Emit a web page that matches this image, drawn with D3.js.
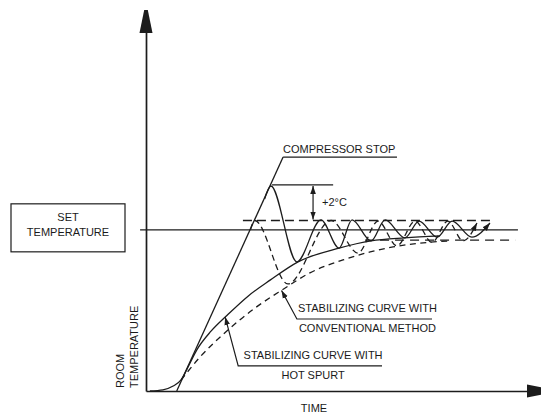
<!DOCTYPE html>
<html>
<head>
<meta charset="utf-8">
<script src="https://cdnjs.cloudflare.com/ajax/libs/d3/7.8.5/d3.min.js"></script>
<style>
	body { margin: 0; background: #fff; }
	text { font-family: "Liberation Sans", Arial, sans-serif; font-size: 11px; fill: #1a1a1a; }
</style>
</head>
<body>
<script>

//levels (arbitrary temperature units)
var setTemp = 42.3,
	bandHigh = 44.75,
	bandLow = 39.6,
	stopTemp = 54.1;

//straight pull-down line up to "compressor stop"
var rampTime = [7.8, 34.8],
	rampTemp = [0, 61.4];

//stabilizing curve with hot spurt (solid)
var hotTime = [1.0, 4.3, 6.9, 8.9, 10.9, 12.9, 16.5, 20.6, 25.9, 31.5, 38.6, 49.0, 57.1, 65.7, 74.6],
	hotTemp = [0, 0.3, 1.3, 2.9, 6.8, 10.8, 15.7, 19.9, 24.9, 29.1, 33.9, 37.5, 39.4, 40.2, 40.7];

//stabilizing curve with conventional method (dashed)
var convTime = [8.9, 13.7, 20.8, 27.7, 34.5, 41.6, 50.0, 56.9, 62.7, 69.5, 77.2],
	convTemp = [2.9, 8.9, 16.0, 21.8, 26.5, 31.0, 34.4, 36.5, 37.8, 38.8, 39.4];

//room temperature swings, hot spurt (solid) and conventional (dashed)
var hotSwingTime = [30.1, 31.7, 38.3, 44.4, 49.0, 52.3, 57.1, 60.7, 65.7, 69.3, 73.9, 77.7, 82.7, 87.3],
	hotSwingTemp = [50.4, 53.8, 33.9, 44.9, 37.5, 44.9, 39.4, 44.9, 40.2, 44.6, 40.4, 44.6, 40.4, 44.1];
var convSwingTime = [26.5, 27.6, 36.0, 47.0, 53.8, 58.9, 63.7, 68.3, 72.6, 76.6, 80.5, 84.0],
	convSwingTemp = [42.3, 44.75, 28.1, 44.75, 36.2, 44.6, 38.1, 44.6, 39.0, 44.6, 39.4, 44.1];

//extent of the horizontal reference lines (time)
var setLineTime = [-1.5, 94.4],
	upperBandTime = [24.6, 87.8],
	lowerBandTime = [55.6, 93.7],
	stopLineTime = [32.0, 47.5],
	deltaTime = 42.4;

//callouts: [tipTime, tipTemp, elbowTime, elbowTemp, endTime]
var stopCallout = [34.8, 61.4, 63.7],
	convCallout = [34.4, 26.4, 38.3, 18.9, 72.6],
	hotCallout = [20.1, 19.4, 23.4, 6.6, 59.9];


var width = 541, height = 416;

var svg = d3.select("body").append("svg")
	.attr("width", width)
	.attr("height", height);

var x = d3.scaleLinear().domain([0, 100]).range([146, 540]),
	y = d3.scaleLinear().domain([0, 100]).range([391, 10]);

var ink = "#1c1c1c";

//markers
var defs = svg.append("defs");
defs.append("marker")
	.attr("id", "tip")
	.attr("viewBox", "0 -4 8 8")
	.attr("refX", 8).attr("refY", 0)
	.attr("markerUnits", "userSpaceOnUse")
	.attr("markerWidth", 8).attr("markerHeight", 8)
	.attr("orient", "auto-start-reverse")
	.append("path")
	.attr("d", "M0,-2.8L8,0L0,2.8Z")
	.attr("fill", ink);

//--------------AXES-----------------------------------------
var xAxis = svg.append("g")
	.attr("transform", "translate(0," + y(0) + ")")
	.call(d3.axisBottom(x).tickValues([]).tickSizeOuter(0));
var yAxis = svg.append("g")
	.attr("transform", "translate(" + x(0) + ",0)")
	.call(d3.axisLeft(y).tickValues([]).tickSizeOuter(0));
svg.selectAll(".domain").attr("stroke", ink).attr("stroke-width", 1.7);

//arrow heads of the axes
svg.append("path")
	.attr("d", "M" + (x(0) - 6.5) + "," + (y(100) + 23) + "L" + (x(0) - 1.8) + "," + y(100) +
		"L" + (x(0) + 1.8) + "," + y(100) + "L" + (x(0) + 6.5) + "," + (y(100) + 23) + "Z")
	.attr("fill", ink);
svg.append("path")
	.attr("d", "M" + (x(100) - 13) + "," + (y(0) - 6.5) + "L" + (x(100) + 10) + "," + (y(0) - 1.8) +
		"L" + (x(100) + 10) + "," + (y(0) + 1.8) + "L" + (x(100) - 13) + "," + (y(0) + 6.5) + "Z")
	.attr("fill", ink);

svg.append("text")
	.attr("x", 314).attr("y", 412)
	.attr("text-anchor", "middle")
	.text("TIME");
svg.append("text")
	.attr("transform", "translate(" + (x(0) - 22) + "," + (y(0) - 3) + ") rotate(-90)")
	.text("ROOM");
svg.append("text")
	.attr("transform", "translate(" + (x(0) - 8.5) + "," + (y(0) - 3) + ") rotate(-90)")
	.text("TEMPERATURE");

//--------------REFERENCE LINES-------------------------------------
function hline(t, v, dash) {
	return svg.append("line")
		.attr("x1", x(t[0])).attr("x2", x(t[1]))
		.attr("y1", y(v)).attr("y2", y(v))
		.attr("stroke", ink)
		.attr("stroke-width", 1.3)
		.attr("stroke-dasharray", dash || null);
}

hline(setLineTime, setTemp);
hline(upperBandTime, bandHigh, "9,5");
hline(lowerBandTime, bandLow, "9,6");
hline(stopLineTime, stopTemp);

//+2C double arrow
svg.append("line")
	.attr("x1", x(deltaTime)).attr("x2", x(deltaTime))
	.attr("y1", y(stopTemp) + 1).attr("y2", y(bandHigh) - 1)
	.attr("stroke", ink).attr("stroke-width", 1.2)
	.attr("marker-start", "url(#tip)")
	.attr("marker-end", "url(#tip)");
svg.append("text")
	.attr("x", x(deltaTime) + 9)
	.attr("y", y(stopTemp) + 21.5)
	.text("+2°C");

//set temperature box
var box = svg.append("g");
box.append("rect")
	.attr("x", 11).attr("y", y(setTemp) - 26)
	.attr("width", 114).attr("height", 48)
	.attr("fill", "none").attr("stroke", ink).attr("stroke-width", 1.2);
box.append("text")
	.attr("x", 68).attr("y", y(setTemp) - 9)
	.attr("text-anchor", "middle").text("SET");
box.append("text")
	.attr("x", 68).attr("y", y(setTemp) + 6.5)
	.attr("text-anchor", "middle").text("TEMPERATURE");

//--------------CURVES-----------------------------------------
var line = d3.line()
	.x(function(d) { return x(d[0]); })
	.y(function(d) { return y(d[1]); })
	.curve(d3.curveMonotoneX);

function curve(t, v, dash) {
	return svg.append("path")
		.datum(d3.zip(t, v))
		.attr("d", line)
		.attr("fill", "none")
		.attr("stroke", ink)
		.attr("stroke-width", 1.3)
		.attr("stroke-dasharray", dash || null);
}

curve(hotTime, hotTemp);
curve(convTime, convTemp, "6,4.5");
curve(hotSwingTime, hotSwingTemp).attr("marker-end", "url(#tip)");
curve(convSwingTime, convSwingTemp, "6,4").attr("marker-end", "url(#tip)");

//ramp straight line, ends at the compressor stop underline
svg.append("line")
	.attr("x1", x(rampTime[0])).attr("y1", y(rampTemp[0]))
	.attr("x2", x(rampTime[1])).attr("y2", y(rampTemp[1]))
	.attr("stroke", ink).attr("stroke-width", 1.3);

//--------------CALLOUTS-----------------------------------------
svg.append("line")
	.attr("x1", x(stopCallout[0])).attr("x2", x(stopCallout[2]))
	.attr("y1", y(stopCallout[1])).attr("y2", y(stopCallout[1]))
	.attr("stroke", ink).attr("stroke-width", 1.2);
svg.append("text")
	.attr("x", x(stopCallout[0]))
	.attr("y", y(stopCallout[1]) - 4.5)
	.text("COMPRESSOR STOP");

function callout(c, line1, line2) {
	var g = svg.append("g");
	g.append("polyline")
		.attr("points", [[x(c[4]), y(c[3])], [x(c[2]), y(c[3])], [x(c[0]), y(c[1])]].join(" "))
		.attr("fill", "none")
		.attr("stroke", ink).attr("stroke-width", 1.2)
		.attr("marker-end", "url(#tip)");
	var cx = (x(c[2]) + x(c[4])) / 2 + 3;
	g.append("text").attr("x", cx).attr("y", y(c[3]) - 6.5)
		.attr("text-anchor", "middle").text(line1);
	g.append("text").attr("x", cx).attr("y", y(c[3]) + 13.5)
		.attr("text-anchor", "middle").text(line2);
}

callout(convCallout, "STABILIZING CURVE WITH", "CONVENTIONAL METHOD");
callout(hotCallout, "STABILIZING CURVE WITH", "HOT SPURT");

</script>
</body>
</html>
